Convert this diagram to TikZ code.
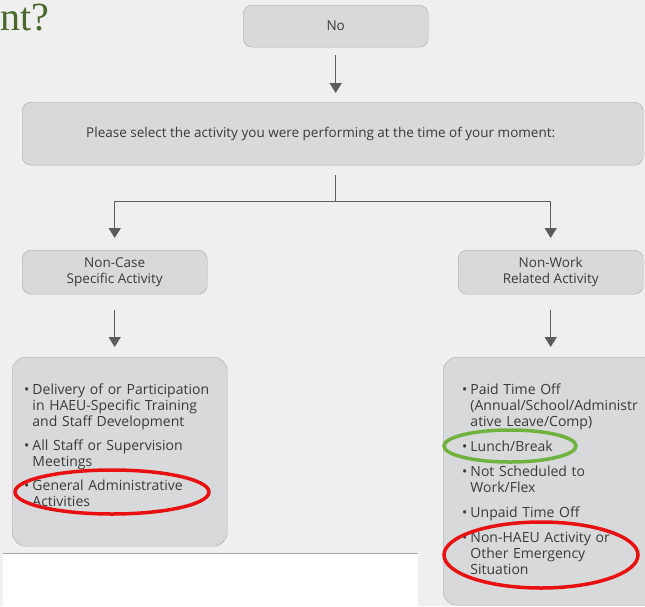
\documentclass[tikz,border=0pt]{standalone}
\usepackage{fontspec}
\usetikzlibrary{arrows.meta}
\newfontfamily\boxfont{Open Sans}
\newfontfamily\titlefont{Liberation Serif}
\definecolor{pagebg}{RGB}{239, 239, 239}
\definecolor{boxfill}{RGB}{216, 217, 219}
\definecolor{boxline}{RGB}{168, 168, 168}
\definecolor{boxtext}{RGB}{58, 58, 58}
\definecolor{arrowgray}{RGB}{92, 92, 92}
\definecolor{titlegreen}{RGB}{74, 104, 44}
\definecolor{markred}{RGB}{232, 16, 16}
\definecolor{markgreen}{RGB}{112, 178, 62}
\tikzset{
    flowbox/.style={draw=boxline, fill=boxfill, rounded corners=9pt,
        text=boxtext, font=\boxfont\fontsize{13.5}{16}\selectfont,
        align=center, inner sep=0pt, anchor=north west},
    listbox/.style={flowbox, rounded corners=14pt, align=left,
        font=\boxfont\fontsize{14}{16}\selectfont},
    flowarrow/.style={draw=arrowgray, line width=1.5pt,
        -{Triangle[length=10pt, width=12pt]}},
    markring/.style={line width=3.5pt},
}

\begin{document}
\begin{tikzpicture}[x=1pt, y=-1pt]
    \fill[pagebg] (0, 0) rectangle (645, 606);
    \useasboundingbox (0, 0) rectangle (645, 606);
    \node[anchor=base west, text=titlegreen, inner sep=0pt,
        font=\titlefont\fontsize{40}{40}\selectfont] (title) at (0, 30) {nt?};

    \node[flowbox, minimum width=185pt, minimum height=42pt] (no)
        at (243, 5) {No};
    \node[flowbox, minimum width=621pt, minimum height=63pt] (select)
        at (22, 102)
        {Please select the activity you were performing at the time of your
        moment:\hspace*{24pt}};
    \node[flowbox, minimum width=185pt, minimum height=44pt] (noncase)
        at (22, 250) {Non-Case\\Specific Activity};
    \node[flowbox, minimum width=185pt, minimum height=44pt] (nonwork)
        at (458, 250) {Non-Work\\Related Activity};

    % white strip under the left list
    \fill[white] (3, 553) rectangle (418, 606);
    \draw[boxline, line width=.8pt] (3, 553) -- (418, 553);

    \node[listbox, minimum width=215pt, minimum height=189pt,
        text width=191pt, inner xsep=12pt] (caselist) at (12, 357) {%
        \begin{tabular}{@{}l@{\hspace{3pt}}l@{}}
            • & Delivery of or Participation\\
              & in HAEU-Specific Training\\
              & and Staff Development\\[8pt]
            • & All Staff or Supervision\\
              & Meetings\\[8pt]
            • & General Administrative\\
              & Activities
        \end{tabular}\par\vspace*{8pt}};
    \node[listbox, minimum width=215pt, minimum height=248pt,
        text width=195pt, inner xsep=19pt] (worklist) at (443, 357) {%
        \begin{tabular}{@{}l@{\hspace{3pt}}l@{}}
            • & Paid Time Off\\
              & (Annual/School/Administr\\
              & ative Leave/Comp)\\[9pt]
            • & Lunch/Break\\[9pt]
            • & Not Scheduled to\\
              & Work/Flex\\[9pt]
            • & Unpaid Time Off\\[9pt]
            • & Non-HAEU Activity or\\
              & Other Emergency\\
              & Situation
        \end{tabular}};

    \draw[flowarrow] ([yshift=-8pt]no.south)
        -- ([yshift=9pt]no.south |- select.north);
    \coordinate (split) at ([yshift=-10pt]no.south |- select.south);
    \draw[flowarrow] (split) -- ++(0, 26) -| ([yshift=12pt]noncase.north);
    \draw[flowarrow] (split) -- ++(0, 26) -| ([yshift=12pt]nonwork.north);
    \draw[flowarrow] ([yshift=-16pt]noncase.south)
        -- ([yshift=10pt]noncase.south |- caselist.north);
    \draw[flowarrow] ([yshift=-16pt]nonwork.south)
        -- ([yshift=10pt]nonwork.south |- worklist.north);

    % hand-drawn marks
    \draw[markring, markred] (112, 492) ellipse (97 and 22);
    \draw[markring, markgreen] (510, 446) ellipse (66 and 16);
    \draw[markring, markred] (541, 555) ellipse (97 and 33);
\end{tikzpicture}
\end{document}
